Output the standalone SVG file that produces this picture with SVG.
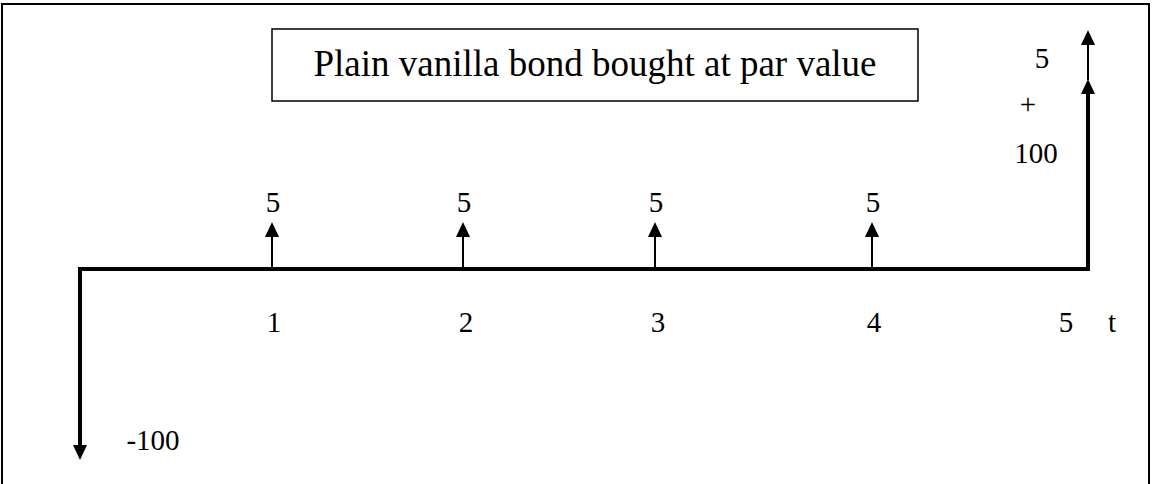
<svg xmlns="http://www.w3.org/2000/svg" width="1153" height="484" viewBox="0 0 1153 484">
<style>
.t{font-family:"Liberation Serif","Times New Roman",serif;font-size:29px;fill:#000;text-anchor:middle}
.title{font-family:"Liberation Serif","Times New Roman",serif;font-size:37px;fill:#000;text-anchor:middle}
.thick{stroke:#000;stroke-width:4;fill:none}
.thin{stroke:#000;stroke-width:2;fill:none}
</style>
<defs>
<marker id="arr" markerUnits="userSpaceOnUse" markerWidth="15" markerHeight="14" refX="0" refY="7" orient="auto" viewBox="0 0 15 14">
<path d="M0,0 L15,7 L0,14 z" fill="#000"/>
</marker>
</defs>
<rect x="2" y="4" width="1147" height="500" fill="#fff" stroke="#000" stroke-width="2"/>
<g id="title">
<rect x="272" y="29" width="646" height="72" fill="#fff" stroke="#000" stroke-width="1.5"/>
<text class="title" x="595" y="76">Plain vanilla bond bought at par value</text>
</g>
<g id="connectors">
<path class="thick" d="M1088,269 L80,269 L80,445" marker-end="url(#arr)"/>
<path class="thick" d="M1086,269 L1088,269 L1088,94" marker-end="url(#arr)"/>
<line class="thin" x1="1088" y1="80" x2="1088" y2="45" marker-end="url(#arr)"/>
<line class="thin" x1="272" y1="269" x2="272" y2="237" marker-end="url(#arr)"/>
<line class="thin" x1="463" y1="269" x2="463" y2="237" marker-end="url(#arr)"/>
<line class="thin" x1="655" y1="269" x2="655" y2="237" marker-end="url(#arr)"/>
<line class="thin" x1="872" y1="269" x2="872" y2="237" marker-end="url(#arr)"/>
</g>
<g id="cf1"><text class="t" x="273" y="212">5</text><text class="t" x="274" y="332">1</text></g>
<g id="cf2"><text class="t" x="464" y="212">5</text><text class="t" x="466" y="332">2</text></g>
<g id="cf3"><text class="t" x="656" y="212">5</text><text class="t" x="658" y="332">3</text></g>
<g id="cf4"><text class="t" x="873" y="212">5</text><text class="t" x="874" y="332">4</text></g>
<g id="cf5"><text class="t" x="1042" y="68">5</text><text class="t" x="1028" y="114">+</text><text class="t" x="1036" y="163">100</text><text class="t" x="1066" y="332">5</text></g>
<g id="taxis"><text class="t" x="1112" y="332">t</text></g>
<g id="cf0"><text class="t" x="153" y="450">-100</text></g>
</svg>
